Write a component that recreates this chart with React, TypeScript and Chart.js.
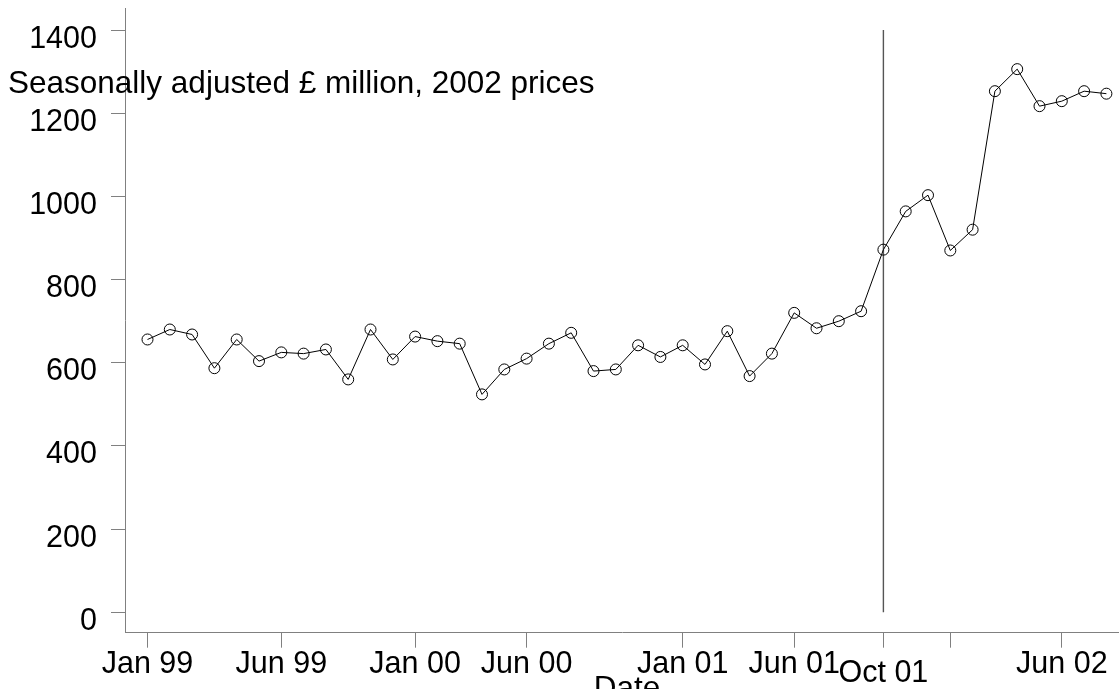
import React, { useEffect, useRef } from "react";
import { Chart, registerables } from "chart.js";

Chart.register(...registerables);

// Monthly observations, Jan 99 .. Aug 02 (index 0..43)
const seriesValues: number[] = [
  656, 680, 668, 587, 656, 604, 625, 622, 632, 560, 680, 608,
  663, 652, 646, 524, 584, 610, 646, 672, 580, 584, 642, 614,
  642, 596, 676, 568, 622, 720, 683, 700, 724, 872, 964, 1003,
  870, 920, 1253, 1306, 1217, 1229, 1253, 1247,
];

const xTickPositions: number[] = [0, 6, 12, 17, 24, 29, 33, 36, 41];
const xTickLabels: string[] = ["Jan 99", "Jun 99", "Jan 00", "Jun 00", "Jan 01", "Jun 01", "Oct 01", "", "Jun 02"];
const xTickLowered: boolean[] = [false, false, false, false, false, false, true, false, false];

const yTickValues: number[] = [0, 200, 400, 600, 800, 1000, 1200, 1400];

const markerIndex = 33; // Oct 01 vertical reference line
const markerRange: number[] = [0, 1400];

const yTitle = "Seasonally adjusted £ million, 2002 prices";
const xTitle = "Date";

const FAMILY = '"Liberation Sans", Arial, Helvetica, sans-serif';
const TICK_FONT = "30.5px " + FAMILY;
const TITLE_FONT = "31.5px " + FAMILY;
const AXIS_COLOR = "#808080";
const W = 1119;
const H = 689;

export default function App() {
  const canvasRef = useRef<HTMLCanvasElement | null>(null);

  useEffect(() => {
    const canvas = canvasRef.current;
    if (!canvas) return;

    const points = seriesValues.map((v, i) => ({ x: i, y: v }));
    const vline = markerRange.map((v) => ({ x: markerIndex, y: v }));

    const textPlugin = {
      id: "textPlugin",
      afterDraw(chart: any) {
        const ctx = chart.ctx as CanvasRenderingContext2D;
        const xs = chart.scales.x;
        const ys = chart.scales.y;
        ctx.save();
        ctx.fillStyle = "#000";
        ctx.font = TICK_FONT;
        ctx.textBaseline = "alphabetic";
        ctx.textAlign = "right";
        yTickValues.forEach((v) => {
          const py = ys.getPixelForValue(v);
          ctx.fillText(String(v), 97, py + 17.5);
        });
        ctx.textAlign = "center";
        xTickPositions.forEach((p, i) => {
          const lbl = xTickLabels[i];
          if (!lbl) return;
          const px = xs.getPixelForValue(p);
          ctx.fillText(lbl, px, xTickLowered[i] ? 682 : 673);
        });
        ctx.font = TITLE_FONT;
        ctx.textAlign = "left";
        ctx.fillText(yTitle, 8, 93);
        ctx.textAlign = "center";
        ctx.fillText(xTitle, 627, 697.5);
        ctx.restore();
      },
    };

    const chart = new Chart(canvas, {
      type: "scatter",
      data: {
        datasets: [
          {
            data: points,
            showLine: true,
            borderColor: "#000",
            borderWidth: 1,
            pointRadius: 5.5,
            pointBorderWidth: 1,
            pointBorderColor: "#000",
            pointBackgroundColor: "rgba(0,0,0,0)",
            tension: 0,
            clip: false,
          },
          {
            data: vline,
            showLine: true,
            borderColor: "#555",
            borderWidth: 1.4,
            pointRadius: 0,
            clip: false,
          },
        ],
      },
      options: {
        animation: false,
        responsive: false,
        maintainAspectRatio: false,
        devicePixelRatio: 1,
        layout: { autoPadding: false, padding: { top: 8, left: 0, right: 0, bottom: 0 } },
        plugins: {
          legend: { display: false },
          tooltip: { enabled: false },
        },
        scales: {
          x: {
            type: "linear",
            min: -1.009,
            max: 43.565,
            afterBuildTicks: (scale: any) => {
              scale.ticks = xTickPositions.map((v) => ({ value: v }));
            },
            afterFit: (scale: any) => {
              scale.height = 56.3;
              scale.paddingLeft = 0;
              scale.paddingRight = 0;
            },
            ticks: { display: false },
            grid: {
              drawOnChartArea: false,
              drawTicks: true,
              tickLength: 15,
              color: AXIS_COLOR,
              lineWidth: 1,
            },
            border: { display: true, color: AXIS_COLOR, width: 1 },
          },
          y: {
            type: "linear",
            min: -49,
            max: 1453,
            afterBuildTicks: (scale: any) => {
              scale.ticks = yTickValues.map((v) => ({ value: v }));
            },
            afterFit: (scale: any) => {
              scale.width = 125;
              scale.paddingTop = 0;
              scale.paddingBottom = 0;
            },
            ticks: { display: false },
            grid: {
              drawOnChartArea: false,
              drawTicks: true,
              tickLength: 14,
              color: AXIS_COLOR,
              lineWidth: 1,
            },
            border: { display: true, color: AXIS_COLOR, width: 1 },
          },
        },
      },
      plugins: [textPlugin],
    } as any);

    return () => {
      chart.destroy();
    };
  }, []);

  return (
    <div
      style={{
        position: "fixed",
        left: 0,
        top: 0,
        width: W,
        height: H,
        background: "#fff",
      }}
    >
      <canvas ref={canvasRef} width={W} height={H} style={{ display: "block", width: W, height: H }} />
    </div>
  );
}
